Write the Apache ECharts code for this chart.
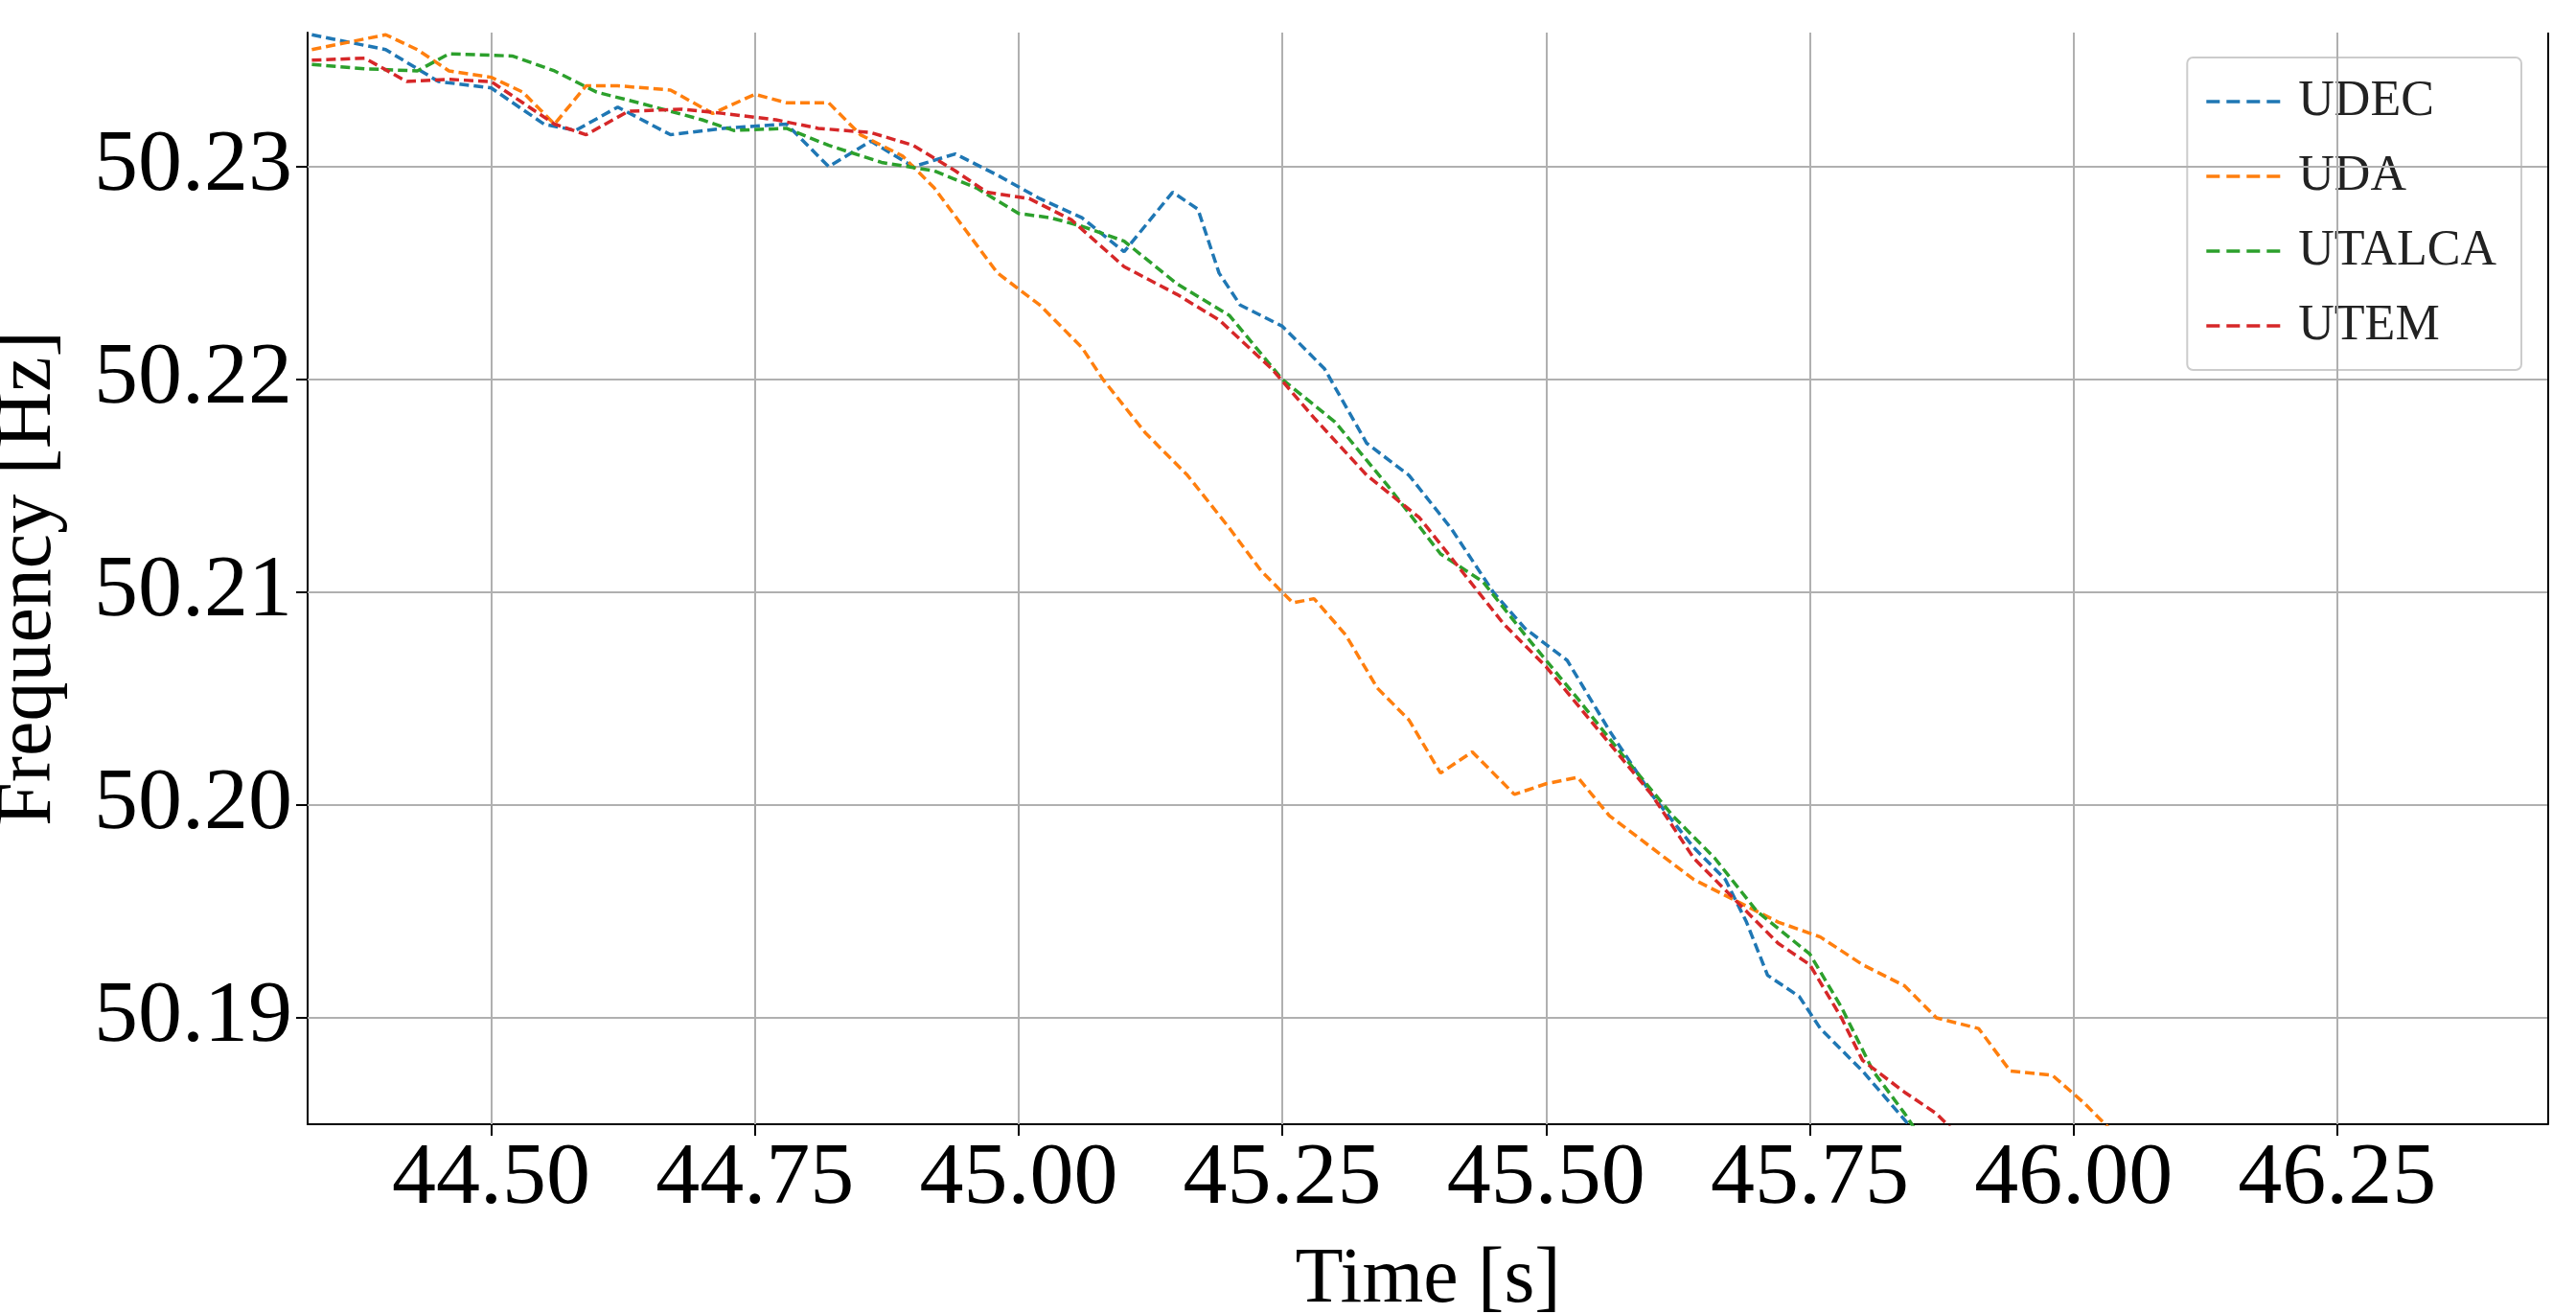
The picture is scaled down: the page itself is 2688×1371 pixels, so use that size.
<!DOCTYPE html>
<html>
<head>
<meta charset="utf-8">
<script src="https://cdn.jsdelivr.net/npm/echarts@6/dist/echarts.min.js"></script>
<style>html,body{margin:0;padding:0;background:#fff}#c{width:2688px;height:1371px}</style>
</head>
<body>
<div id="c"></div>
<script>
// 刻度
var xTicks = [44.5, 44.75, 45.0, 45.25, 45.5, 45.75, 46.0, 46.25]
var yTicks = [50.19, 50.20, 50.21, 50.22, 50.23]

// 各系列数据 [time, freq]
var udec = [[44.33,50.2362],[44.40,50.2355],[44.45,50.2340],[44.50,50.2337],[44.55,50.2320],[44.58,50.2317],[44.62,50.2328],[44.67,50.2315],[44.72,50.2318],[44.78,50.2320],[44.82,50.2300],[44.86,50.2312],[44.90,50.2300],[44.94,50.2306],[44.98,50.2296],[45.02,50.2285],[45.06,50.2276],[45.10,50.2260],[45.146,50.2288],[45.17,50.2280],[45.19,50.2250],[45.21,50.2235],[45.25,50.2225],[45.29,50.2205],[45.33,50.2170],[45.37,50.2155],[45.41,50.2130],[45.45,50.2100],[45.48,50.2083],[45.52,50.2068],[45.56,50.2035],[45.60,50.2005],[45.64,50.1980],[45.67,50.1965],[45.69,50.1945],[45.71,50.1920],[45.74,50.1910],[45.76,50.1895],[45.80,50.1875],[45.84,50.1852],[45.86,50.1840]]
var uda = [[44.33,50.2355],[44.36,50.2358],[44.40,50.2362],[44.43,50.2355],[44.46,50.2345],[44.50,50.2342],[44.53,50.2335],[44.56,50.2320],[44.59,50.2338],[44.62,50.2338],[44.67,50.2336],[44.71,50.2325],[44.75,50.2334],[44.78,50.2330],[44.82,50.2330],[44.85,50.2315],[44.89,50.2305],[44.92,50.2290],[44.95,50.2270],[44.98,50.2250],[45.02,50.2235],[45.06,50.2215],[45.08,50.2200],[45.12,50.2175],[45.16,50.2155],[45.20,50.2130],[45.23,50.2110],[45.26,50.2095],[45.28,50.2097],[45.31,50.2080],[45.34,50.2055],[45.37,50.2040],[45.40,50.2015],[45.43,50.2025],[45.47,50.2005],[45.50,50.2010],[45.53,50.2013],[45.56,50.1995],[45.60,50.1980],[45.64,50.1965],[45.68,50.1955],[45.72,50.1945],[45.76,50.1938],[45.80,50.1925],[45.84,50.1915],[45.87,50.1900],[45.91,50.1895],[45.94,50.1875],[45.98,50.1873],[46.01,50.1860],[46.03,50.1850],[46.05,50.1840]]
var utalca = [[44.33,50.2348],[44.38,50.2346],[44.43,50.2345],[44.46,50.2353],[44.52,50.2352],[44.56,50.2345],[44.60,50.2335],[44.64,50.2330],[44.70,50.2322],[44.73,50.2317],[44.78,50.2318],[44.82,50.2310],[44.87,50.2302],[44.92,50.2298],[44.96,50.2290],[45.00,50.2278],[45.03,50.2276],[45.06,50.2272],[45.10,50.2265],[45.15,50.2245],[45.20,50.2230],[45.25,50.2200],[45.30,50.2180],[45.35,50.2150],[45.40,50.2118],[45.44,50.2105],[45.48,50.2080],[45.53,50.2050],[45.57,50.2025],[45.62,50.1995],[45.66,50.1975],[45.70,50.1950],[45.75,50.1930],[45.78,50.1905],[45.81,50.1875],[45.84,50.1855],[45.86,50.1840]]
var utem = [[44.33,50.2350],[44.38,50.2351],[44.42,50.2340],[44.46,50.2341],[44.50,50.2340],[44.53,50.2330],[44.56,50.2320],[44.59,50.2315],[44.63,50.2326],[44.68,50.2327],[44.72,50.2325],[44.77,50.2322],[44.81,50.2318],[44.86,50.2316],[44.90,50.2310],[44.94,50.2298],[44.97,50.2288],[45.01,50.2285],[45.05,50.2275],[45.10,50.2253],[45.15,50.2240],[45.19,50.2228],[45.24,50.2205],[45.28,50.2182],[45.33,50.2155],[45.38,50.2135],[45.42,50.2110],[45.46,50.2085],[45.50,50.2065],[45.55,50.2035],[45.60,50.2005],[45.64,50.1975],[45.68,50.1955],[45.72,50.1935],[45.75,50.1925],[45.78,50.1900],[45.80,50.1880],[45.84,50.1865],[45.87,50.1855],[45.89,50.1845]]

var font = 'Liberation Serif'
var myChart = echarts.init(document.getElementById('c'))

// 网格线用 markLine 画
var gridLines = xTicks.map(function (v) { return { xAxis: v } })
  .concat(yTicks.map(function (v) { return { yAxis: v } }))

function mkSeries (name, data, color) {
  return {
    name: name, type: 'line', data: data, showSymbol: false, smooth: false,
    lineStyle: { color: color, width: 3.5, type: [10, 5] }, itemStyle: { color: color }, z: 5
  }
}

var option = {
  animation: false,
  grid: { left: 321, right: 29, top: 34, bottom: 198, outerBoundsMode: 'none', containLabel: false },
  legend: {
    right: 57, top: 60, orient: 'vertical', itemGap: 26, itemWidth: 77, itemHeight: 5,
    padding: [20, 26, 20, 20], borderColor: '#ccc', borderWidth: 2, borderRadius: 6,
    textStyle: { fontFamily: font, fontSize: 52, color: '#222', padding: [0, 0, 0, 14] },
    icon: 'path://M0,0h4v1h-4z M6,0h4v1h-4z M12,0h4v1h-4z M18,0h4v1h-4z',
    data: ['UDEC', 'UDA', 'UTALCA', 'UTEM']
  },
  xAxis: {
    type: 'value', min: 44.326, max: 46.45,
    name: 'Time [s]', nameLocation: 'middle', nameGap: 122,
    nameTextStyle: { fontFamily: font, fontSize: 82, color: '#000' },
    axisLine: { show: true, onZero: false, lineStyle: { color: '#000', width: 2 } },
    axisTick: { show: true, inside: false, length: 12, customValues: xTicks, lineStyle: { color: '#000', width: 2 } },
    axisLabel: { customValues: xTicks, fontFamily: font, fontSize: 92, color: '#000', margin: 12, formatter: function (v) { return v.toFixed(2) } },
    splitLine: { show: false }
  },
  yAxis: {
    type: 'value', min: 50.185, max: 50.2363,
    name: 'Frequency [Hz]', nameLocation: 'middle', nameGap: 250,
    nameTextStyle: { fontFamily: font, fontSize: 82, color: '#000' },
    axisLine: { show: true, onZero: false, lineStyle: { color: '#000', width: 2 } },
    axisTick: { show: true, length: 12, customValues: yTicks, lineStyle: { color: '#000', width: 2 } },
    axisLabel: { customValues: yTicks, fontFamily: font, fontSize: 92, color: '#000', margin: 16, formatter: function (v) { return v.toFixed(2) } },
    splitLine: { show: false }
  },
  series: [
    mkSeries('UDEC', udec, '#1f77b4'),
    mkSeries('UDA', uda, '#ff7f0e'),
    mkSeries('UTALCA', utalca, '#2ca02c'),
    mkSeries('UTEM', utem, '#d62728'),
    {
      type: 'line', data: [], silent: true, z: 1,
      markLine: { symbol: 'none', silent: true, label: { show: false }, lineStyle: { color: '#b0b0b0', width: 2, type: 'solid' }, data: gridLines }
    },
    {
      // 右、上边框
      type: 'line', data: [], silent: true, z: 6,
      markLine: { symbol: 'none', silent: true, label: { show: false }, lineStyle: { color: '#000', width: 2, type: 'solid' }, data: [{ xAxis: 46.45 }, { yAxis: 50.2363 }] }
    }
  ]
}
myChart.setOption(option, true)
window.addEventListener('resize', function () {
  myChart.resize()
})
</script>
</body>
</html>
